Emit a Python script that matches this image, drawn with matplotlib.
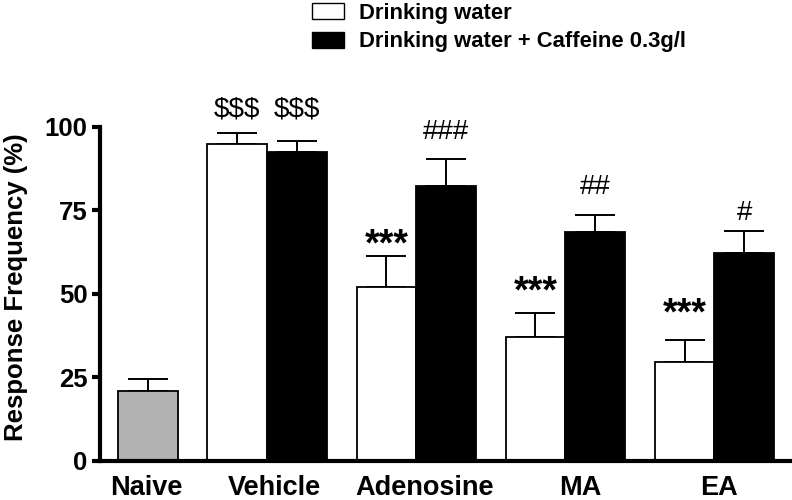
import numpy as np
import matplotlib
matplotlib.use('Agg')
from matplotlib import pyplot as plt
from matplotlib.patches import Patch

plt.rcParams['font.family'] = ['Liberation Sans', 'DejaVu Sans']

# data
groups = ['Naive', 'Vehicle', 'Adenosine', 'MA', 'EA']
naive_mean = [21.0]
naive_err = [3.5]
water_mean = [94.8, 52.2, 37.2, 29.7]
water_err = [3.5, 9.3, 7.0, 6.5]
caffeine_mean = [92.5, 82.4, 68.7, 62.4]
caffeine_err = [3.4, 7.9, 4.9, 6.6]
water_marks = ['$$$', '***', '***', '***']
water_mark_y = [105.1, 66.5, 52.4, 45.8]
caffeine_marks = ['$$$', '###', '##', '#']
caffeine_mark_y = [105.1, 98.6, 82.0, 74.1]
series_labels = ['Drinking water', 'Drinking water + Caffeine 0.3g/l']
yticks = [0, 25, 50, 75, 100]

fig = plt.figure(figsize=(7.92, 5.0), dpi=100)
ax = fig.add_axes([100 / 792, 39 / 500, 692 / 792, 461 / 500])

group_x = np.array([0, 2, 4.5, 7, 9.5])
label_shift = np.array([-0.03, 0.13, 0.14, 0.25, 0.08])
pair_x = group_x[1:]
width = 1.0

err_style = dict(fmt='none', ecolor='black', elinewidth=1.4, capsize=14.4,
                 capthick=1.4, zorder=1)

# naive bar
ax.bar(group_x[:1], naive_mean, width, color='#b3b3b3', edgecolor='black',
       linewidth=1.3, zorder=2)
ax.errorbar(group_x[:1], naive_mean, yerr=[[0], naive_err], **err_style)

# pairs
ax.bar(pair_x - width / 2, water_mean, width, color='white', edgecolor='black',
       linewidth=1.3, zorder=2)
ax.bar(pair_x + width / 2, caffeine_mean, width, color='black', edgecolor='black',
       linewidth=1.3, zorder=2)
ax.errorbar(pair_x - width / 2, water_mean, yerr=[[0] * 4, water_err], **err_style)
ax.errorbar(pair_x + width / 2, caffeine_mean, yerr=[[0] * 4, caffeine_err], **err_style)

# significance marks (asterisk glyph sits high, so nudge it down)
def mark(x, y, s):
    if s.startswith('*'):
        ax.annotate(s, (x, y), xytext=(0, -5), textcoords='offset points',
                    ha='center', va='center', fontsize=27, fontweight='bold')
    else:
        ax.text(x, y, s, ha='center', va='center', fontsize=20)

for x, y, s in zip(pair_x - width / 2, water_mark_y, water_marks):
    mark(x, y, s)
for x, y, s in zip(pair_x + width / 2, caffeine_mark_y, caffeine_marks):
    mark(x, y, s)

ax.set_xlim(-0.8, 10.8)
ax.set_ylim(0, 138)
ax.set_yticks(yticks)
ax.set_yticklabels([str(t) for t in yticks], fontsize=18.5, fontweight='bold')
ax.set_xticks([])
for x, s in zip(group_x + label_shift, groups):
    ax.annotate(s, (x, 0), xytext=(0, -10), textcoords='offset points',
                ha='center', va='top', fontsize=19.5, fontweight='bold')
ax.tick_params(axis='y', length=6, width=3, pad=3)
ax.set_ylabel('Response Frequency (%)', fontsize=18.5, fontweight='bold')
ax.yaxis.set_label_coords(-0.104, 0.377)

for side in ['top', 'right']:
    ax.spines[side].set_visible(False)
ax.spines['left'].set_linewidth(3)
ax.spines['bottom'].set_linewidth(3)
ax.spines['left'].set_bounds(0, 100)

handles = [Patch(facecolor='white', edgecolor='black', linewidth=1.0),
           Patch(facecolor='black', edgecolor='black', linewidth=1.0)]
fig.legend(handles, series_labels, loc='upper left', bbox_to_anchor=(292 / 792, 1.034),
           frameon=False, prop={'size': 15.8, 'weight': 'bold'},
           handlelength=1.45, handleheight=0.75, handletextpad=0.7, labelspacing=0.35)

fig.savefig('out.png', dpi=100)
